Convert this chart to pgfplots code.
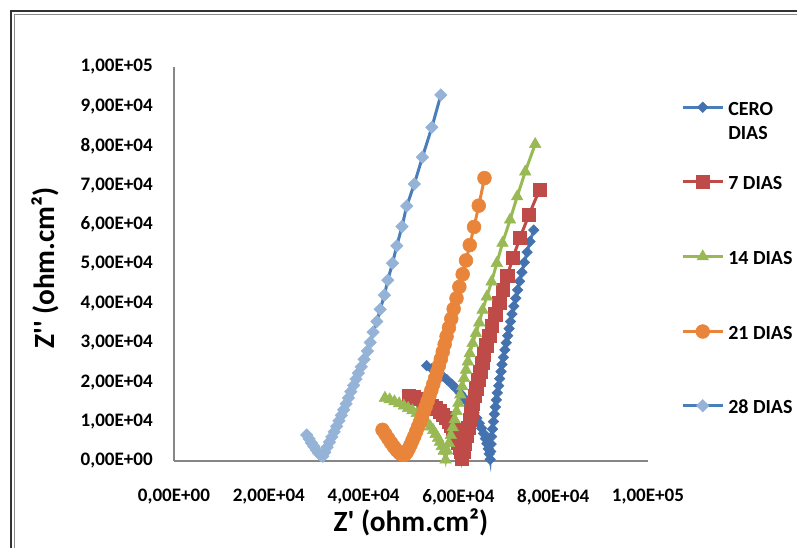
\documentclass[border=0pt]{standalone}
\usepackage{fontspec}
\setmainfont{Carlito}
\usepackage{pgfplots}
\usepackage{pgfplotstable}
\pgfplotsset{compat=1.18}

\definecolor{cero}{HTML}{4A7EBB}
\definecolor{ceromk}{HTML}{4472AE}
\definecolor{siete}{HTML}{BE4B48}
\definecolor{catorce}{HTML}{98B954}
\definecolor{veintiuno}{HTML}{E8853A}
\definecolor{veintiochomk}{HTML}{95B3D7}
\definecolor{ejes}{HTML}{868686}

% Z' y Z'' en unidades de 1e3 ohm.cm2
\pgfplotstableread{
x y
53.3 24.2
54.4 23.4
55.5 22.6
56.6 21.6
57.6 20.6
58.6 19.5
59.5 18.4
60.4 17.2
61.2 16.0
62.0 14.8
62.7 13.5
63.3 12.2
63.9 10.9
64.4 9.6
64.9 8.3
65.3 7.0
65.7 5.7
66.0 4.4
66.3 3.1
66.5 1.8
66.7 0.4
66.8 2.4
66.9 4.3
67.0 6.2
67.2 8.1
67.4 10.0
67.6 11.9
67.8 13.7
68.0 15.5
68.2 17.3
68.5 19.1
68.7 20.9
69.0 22.7
69.2 24.5
69.5 26.3
69.8 28.2
70.1 30.0
70.4 31.8
70.7 33.6
71.0 35.4
71.3 37.3
71.7 39.3
72.1 41.3
72.5 43.4
72.9 45.6
73.4 47.9
73.9 50.4
74.5 53.0
75.1 55.7
75.9 58.6
}\cero

\pgfplotstableread{
x y
49.5 16.5
50.5 16.2
51.5 15.8
52.5 15.3
53.5 14.7
54.4 14.1
55.2 13.4
56.0 12.6
56.7 11.8
57.3 10.9
57.9 10.0
58.4 9.0
58.9 8.0
59.3 6.9
59.7 5.8
60.0 4.7
60.3 3.5
60.5 2.3
60.7 0.6
61.0 2.5
61.4 4.5
61.8 6.5
62.1 8.5
62.4 10.5
62.7 12.5
63.0 14.5
63.4 16.5
63.8 18.5
64.2 20.6
64.6 22.7
65.0 24.9
65.4 27.1
65.9 29.4
66.5 31.8
67.1 34.4
67.8 37.2
68.6 40.2
69.4 43.4
70.3 47.0
71.5 51.5
73.0 56.7
74.9 62.5
77.1 68.8
}\siete

\pgfplotstableread{
x y
44.5 16.0
45.5 15.6
46.5 15.1
47.5 14.6
48.5 14.0
49.4 13.4
50.3 12.8
51.2 12.1
52.0 11.3
52.8 10.5
53.5 9.6
54.1 8.7
54.7 7.8
55.2 6.8
55.7 5.8
56.1 4.8
56.5 3.7
56.9 2.5
57.3 0.3
57.6 2.6
58.0 4.5
58.4 6.5
58.8 8.5
59.2 10.5
59.6 12.6
60.0 14.7
60.4 16.8
60.8 18.9
61.2 21.0
61.6 23.1
62.0 25.2
62.4 27.3
63.0 29.9
63.7 32.4
64.4 35.1
65.1 38.3
66.0 41.7
67.0 45.5
68.1 50.2
69.3 55.3
70.9 61.2
72.4 67.1
74.1 73.4
76.2 80.4
}\catorce

\pgfplotstableread{
x y
44.0 7.9
44.6 6.8
45.2 5.7
45.8 4.6
46.4 3.6
47.0 2.7
47.6 2.0
48.2 1.6
48.7 1.6
49.1 2.2
49.5 3.1
49.9 4.1
50.3 5.2
50.7 6.3
51.1 7.5
51.5 8.7
51.9 9.9
52.3 11.2
52.7 12.5
53.1 13.8
53.5 15.2
53.9 16.6
54.3 18.0
54.7 19.5
55.1 21.0
55.5 22.6
55.9 24.2
56.3 25.9
56.7 27.7
57.1 29.6
57.5 31.6
58.0 33.8
58.5 36.1
59.0 38.6
59.6 41.3
60.2 44.2
60.9 47.4
61.6 50.9
62.4 54.8
63.3 59.4
64.3 64.8
65.5 71.8
}\veintiuno

\pgfplotstableread{
x y
28.0 6.6
28.5 5.6
29.0 4.6
29.5 3.7
30.0 2.8
30.5 2.0
31.0 1.4
31.4 1.2
31.8 2.2
32.3 3.5
32.8 4.8
33.3 6.1
33.8 7.4
34.3 8.8
34.8 10.2
35.3 11.6
35.8 13.0
36.3 14.5
36.8 16.0
37.3 17.6
37.9 19.2
38.4 20.8
38.9 22.3
39.5 23.9
40.1 25.8
40.8 27.9
41.4 30.1
42.0 32.7
42.8 35.4
43.5 38.5
44.4 42.1
45.1 45.9
46.1 50.2
47.0 54.6
48.1 59.5
49.1 64.7
50.7 70.3
52.4 77.1
54.4 84.7
56.3 92.9
}\veintiocho

\begin{document}
\begin{tikzpicture}[x=0.75pt,y=0.75pt]
\useasboundingbox (0,0) rectangle (797,548);
% marco del grafico (cortado a la derecha y abajo)
\draw[line width=1.5pt, black!80] (11,-10) -- (11,536.5) -- (810,536.5);
\draw[line width=0.7pt, black!45] (14,-10) -- (14,533.5) -- (810,533.5);

\begin{axis}[
    at={(130.5pt,65.25pt)}, anchor=south west,
    scale only axis,
    width=355.5pt, height=295.5pt,
    xmin=0, xmax=100, ymin=0, ymax=100,
    axis x line=bottom, axis y line=left,
    axis line style={-, draw=ejes, line width=0.8pt},
    major tick length=0pt,
    clip=false,
    xtick={0,20,40,60,80,100},
    xticklabels={{0,00E+00},{2,00E+04},{4,00E+04},{6,00E+04},{8,00E+04},{1,00E+05}},
    ytick={0,10,...,100},
    yticklabels={{0,00E+00},{1,00E+04},{2,00E+04},{3,00E+04},{4,00E+04},{5,00E+04},{6,00E+04},{7,00E+04},{8,00E+04},{9,00E+04},{1,00E+05}},
    xticklabel style={font=\fontsize{14.3}{17}\selectfont\bfseries, anchor=center, inner sep=0pt, yshift=-27pt},
    yticklabel style={font=\fontsize{14.3}{17}\selectfont\bfseries, anchor=east, inner sep=0pt, xshift=-15.75pt},
    xlabel={Z\textquotesingle{} (ohm.cm²)},
    ylabel={Z\textquotesingle\textquotesingle{} (ohm.cm²)},
    xlabel style={font=\fontsize{22}{26}\selectfont\bfseries, at={(axis description cs:0.5,-0.155)}, anchor=center},
    ylabel style={font=\fontsize{22}{26}\selectfont\bfseries, at={(axis description cs:-0.272,0.49)}, anchor=center},
    legend style={draw=none, fill=none, at={(axis description cs:1.0696,0.912)}, anchor=north west,
        inner sep=0pt, row sep=39pt, column sep=3pt,
        font=\fontsize{15}{18.5}\selectfont\bfseries,
        nodes={inner sep=0pt, text height=10pt, text depth=6pt}},
    legend cell align=left,
    legend image code/.code={\draw[mark repeat=2, mark phase=2, #1] plot coordinates {(0pt,4pt) (15pt,4pt) (30pt,4pt)};},
]
\addplot[color=cero, line width=2.25pt, mark=square*, mark size=2.8pt,
    mark options={solid, rotate=45, fill=ceromk, draw=ceromk, line width=0.4pt}] table {\cero};
\addlegendentry{\begin{tabular}[t]{@{}l@{}}CERO\\DIAS\end{tabular}}
\addplot[color=siete, line width=2.25pt, mark=square*, mark size=5pt,
    mark options={solid, fill=siete, draw=siete, line width=0.4pt}] table {\siete};
\addlegendentry{7 DIAS}
\addplot[color=catorce, line width=2.25pt, mark=triangle*, mark size=5pt,
    mark options={solid, fill=catorce, draw=catorce, line width=0.4pt}] table {\catorce};
\addlegendentry{14 DIAS}
\addplot[color=veintiuno, line width=2.25pt, mark=*, mark size=5.2pt,
    mark options={solid, fill=veintiuno, draw=veintiuno, line width=0.4pt}] table {\veintiuno};
\addlegendentry{21 DIAS}
\addplot[color=cero, line width=2.25pt, mark=square*, mark size=3.3pt,
    mark options={solid, rotate=45, fill=veintiochomk, draw=veintiochomk, line width=0.4pt}] table {\veintiocho};
\addlegendentry{28 DIAS}
\end{axis}
\end{tikzpicture}
\end{document}
